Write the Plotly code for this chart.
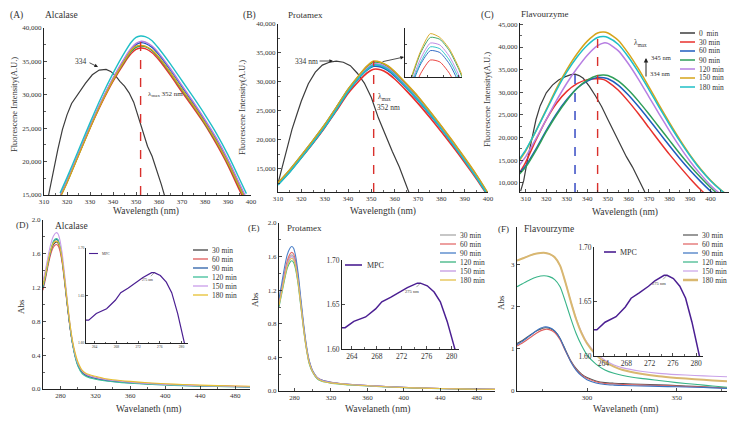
import plotly.graph_objects as go

W, H = 735, 421
SERIF = "Liberation Serif"
TXT = "#333333"

# ---------------- data ----------------
FL_LABELS = ["0  min", "30 min", "60 min", "90 min", "120 min", "150 min", "180 min"]
FL_COLORS = ["#3c3c3c", "#e8302c", "#1f5cbf", "#2e9e58", "#b77fe2", "#d6a41a", "#1fbfc6"]

# (A) Alcalase fluorescence
A_WL_0 = [312, 314, 316, 318, 320, 322, 325, 328, 331, 334, 337, 339, 341, 343, 345, 347, 349, 351, 353, 355, 357, 359, 361, 363]
A_0 = [15000, 18500, 21800, 24800, 27000, 28700, 30200, 31700, 33000, 33700, 33800, 33500, 32900, 32000, 31300, 30300, 28900, 26800, 24500, 22300, 20800, 18800, 16600, 14200]
A_WL = [317, 320, 325, 330, 335, 340, 345, 348, 350, 352, 354, 357, 360, 365, 370, 375, 380, 385, 390, 395, 398]
A_30 = [14800, 17000, 21000, 25000, 28700, 32000, 34800, 36200, 36800, 37000, 36900, 36300, 35200, 32900, 30400, 28000, 25500, 22600, 19400, 15700, 13500]
A_60 = [14700, 17000, 21100, 25200, 29000, 32400, 35300, 36800, 37500, 37800, 37700, 37100, 36000, 33700, 31200, 28700, 26100, 23300, 20100, 16500, 14300]
A_90 = [14700, 16900, 21000, 25100, 28900, 32200, 35000, 36500, 37100, 37300, 37200, 36600, 35500, 33200, 30700, 28300, 25700, 22900, 19700, 16100, 13900]
A_120 = [14800, 17100, 21200, 25300, 29100, 32500, 35500, 37000, 37700, 38000, 37900, 37300, 36200, 33900, 31400, 28900, 26300, 23500, 20300, 16700, 14500]
A_150 = [14600, 16800, 20900, 25000, 28800, 32200, 35100, 36700, 37300, 37400, 37300, 36700, 35600, 33300, 30800, 28400, 25800, 23000, 19800, 16200, 14000]
A_180 = [15300, 17600, 21700, 25800, 29700, 33200, 36300, 37900, 38600, 38800, 38700, 38100, 36900, 34600, 32100, 29600, 27000, 24200, 21000, 17400, 15200]
A_LMAX = 352

# (B) Protamex fluorescence
B_WL_0 = [310, 312, 314, 316, 318, 320, 323, 326, 329, 332, 335, 338, 341, 344, 347, 350, 353, 356, 359, 362, 365, 367]
B_0 = [12500, 15500, 18800, 21800, 24300, 26700, 29700, 31700, 32900, 33400, 33600, 33400, 32800, 31500, 29800, 27300, 23800, 20800, 18000, 15300, 12200, 10000]
B_WL = [310, 315, 320, 325, 330, 335, 340, 345, 348, 351, 354, 357, 360, 365, 370, 375, 380, 385, 390, 395, 400]
B_30 = [12400, 14500, 16900, 19400, 22100, 25000, 28000, 30300, 31500, 32200, 32100, 31500, 30500, 28500, 26300, 23900, 21400, 18800, 16100, 13300, 10300]
B_60 = [12300, 14500, 17000, 19500, 22200, 25200, 28300, 30800, 32000, 32700, 32600, 32000, 31000, 29000, 26800, 24400, 21900, 19200, 16500, 13600, 10500]
B_90 = [12500, 14800, 17300, 19900, 22600, 25600, 28700, 31200, 32600, 33400, 33300, 32700, 31700, 29600, 27400, 24900, 22300, 19600, 16800, 13900, 10700]
B_120 = [12400, 14700, 17200, 19800, 22500, 25500, 28600, 31000, 32300, 33100, 33000, 32400, 31400, 29300, 27100, 24700, 22100, 19400, 16600, 13700, 10600]
B_150 = [12600, 14800, 17300, 19900, 22600, 25600, 28700, 31300, 32700, 33600, 33400, 32800, 31800, 29700, 27500, 25000, 22400, 19700, 16900, 14000, 10800]
B_180 = [12200, 14400, 16900, 19500, 22200, 25200, 28300, 30900, 32100, 32900, 32800, 32200, 31200, 29100, 26900, 24500, 21900, 19200, 16400, 13500, 10400]
B_LMAX = 351

# (C) Flavourzyme fluorescence
C_WL_0 = [307.5, 309, 311, 313, 315, 317, 320, 323, 326, 329, 332, 334, 336, 338, 341, 344, 347, 350, 353, 356, 359, 362, 365, 368]
C_0 = [8200, 10500, 15500, 20000, 24000, 27000, 29900, 31600, 32700, 33400, 33900, 34000, 33700, 33100, 31300, 29200, 26800, 24000, 21200, 18400, 15800, 13500, 10800, 8000]
C_WL = [307, 310, 315, 320, 325, 330, 335, 340, 345, 348, 350, 355, 360, 365, 370, 375, 380, 385, 390, 395, 400, 405, 410]
C_30 = [12200, 14600, 19500, 24000, 27600, 30200, 31900, 32800, 33000, 32800, 32300, 30500, 28000, 25200, 22200, 19200, 16300, 13600, 11000, 8600, 6500, 5000, 4000]
C_60 = [12300, 13800, 17500, 21600, 25300, 28400, 30900, 32500, 33300, 33200, 33000, 31600, 29400, 26800, 24000, 21100, 18200, 15400, 12800, 10400, 8200, 6400, 5000]
C_90 = [12000, 13500, 17200, 21300, 25000, 28200, 30900, 32700, 33700, 33800, 33700, 32500, 30500, 28000, 25200, 22300, 19400, 16500, 13800, 11300, 9000, 7000, 5400]
C_120 = [14000, 15800, 19800, 24000, 28200, 32000, 35300, 38200, 40300, 40900, 40800, 39200, 36300, 32800, 29000, 25200, 21500, 18000, 14800, 12000, 9500, 7500, 6000]
C_150 = [15000, 17100, 21500, 26200, 30900, 35000, 38500, 41300, 43100, 43300, 43100, 41500, 38600, 35100, 31200, 27200, 23300, 19600, 16200, 13200, 10600, 8500, 6700]
C_180 = [15300, 17300, 21500, 26000, 30500, 34500, 37800, 40400, 42100, 42300, 42100, 40600, 37800, 34400, 30600, 26700, 22900, 19300, 16000, 13000, 10500, 8400, 6700]
C_LMAX_0 = 334
C_LMAX = 345

UV_LABELS = ["30 min", "60 min", "90 min", "120 min", "150 min", "180 min"]

# (D) Alcalase UV
D_COLORS = ["#454545", "#e05a5a", "#2b5fa8", "#3fbf9a", "#c99de9", "#e6c030"]
D_WL = [260, 263, 266, 269, 272, 275, 277, 279, 282, 285, 288, 291, 294, 297, 300, 305, 310, 320, 330, 340, 360, 380, 400, 420, 440, 460, 480, 497]
D_30 = [1.22, 1.35, 1.50, 1.63, 1.71, 1.74, 1.73, 1.68, 1.51, 1.26, 0.98, 0.73, 0.53, 0.39, 0.29, 0.20, 0.165, 0.13, 0.11, 0.095, 0.077, 0.063, 0.053, 0.045, 0.039, 0.034, 0.03, 0.027]
D_60 = [1.17, 1.31, 1.47, 1.60, 1.68, 1.71, 1.70, 1.65, 1.49, 1.24, 0.97, 0.72, 0.53, 0.39, 0.29, 0.20, 0.165, 0.135, 0.115, 0.10, 0.08, 0.066, 0.056, 0.047, 0.041, 0.036, 0.032, 0.029]
D_90 = [1.20, 1.34, 1.50, 1.64, 1.74, 1.77, 1.76, 1.70, 1.53, 1.27, 0.99, 0.73, 0.53, 0.38, 0.28, 0.19, 0.155, 0.125, 0.105, 0.09, 0.073, 0.06, 0.05, 0.043, 0.037, 0.032, 0.028, 0.025]
D_120 = [1.21, 1.35, 1.51, 1.65, 1.75, 1.78, 1.77, 1.71, 1.54, 1.28, 0.99, 0.73, 0.52, 0.37, 0.27, 0.18, 0.145, 0.115, 0.097, 0.085, 0.068, 0.056, 0.047, 0.04, 0.034, 0.03, 0.026, 0.023]
D_150 = [1.28, 1.42, 1.58, 1.72, 1.81, 1.85, 1.84, 1.78, 1.60, 1.33, 1.03, 0.76, 0.55, 0.40, 0.30, 0.21, 0.17, 0.135, 0.115, 0.10, 0.08, 0.065, 0.055, 0.047, 0.04, 0.035, 0.03, 0.028]
D_180 = [1.23, 1.36, 1.52, 1.65, 1.73, 1.75, 1.74, 1.69, 1.53, 1.28, 1.01, 0.76, 0.56, 0.42, 0.32, 0.22, 0.18, 0.15, 0.125, 0.11, 0.09, 0.074, 0.062, 0.053, 0.046, 0.04, 0.036, 0.033]

# (E) Protamex UV
E_COLORS = ["#a9a9a9", "#e36d6d", "#4a7fc8", "#3bb380", "#c39ae2", "#e3c04a"]
E_WL = [263, 266, 269, 272, 275, 277, 279, 281, 284, 287, 290, 293, 296, 300, 305, 310, 320, 330, 340, 360, 380, 400, 420, 440, 460, 480, 500]
E_30 = [1.04, 1.21, 1.38, 1.52, 1.60, 1.62, 1.60, 1.53, 1.32, 1.04, 0.76, 0.52, 0.35, 0.23, 0.155, 0.125, 0.10, 0.088, 0.078, 0.064, 0.052, 0.042, 0.035, 0.03, 0.026, 0.022, 0.02]
E_60 = [1.05, 1.22, 1.40, 1.55, 1.63, 1.65, 1.63, 1.56, 1.35, 1.06, 0.77, 0.53, 0.36, 0.235, 0.16, 0.13, 0.105, 0.09, 0.08, 0.065, 0.053, 0.043, 0.036, 0.03, 0.026, 0.022, 0.02]
E_90 = [1.10, 1.28, 1.47, 1.62, 1.70, 1.72, 1.70, 1.62, 1.40, 1.10, 0.80, 0.55, 0.37, 0.24, 0.16, 0.13, 0.105, 0.09, 0.08, 0.065, 0.053, 0.043, 0.036, 0.03, 0.026, 0.022, 0.02]
E_120 = [1.00, 1.16, 1.32, 1.46, 1.53, 1.55, 1.53, 1.46, 1.27, 1.00, 0.73, 0.50, 0.33, 0.22, 0.145, 0.115, 0.093, 0.082, 0.072, 0.06, 0.048, 0.04, 0.033, 0.028, 0.024, 0.02, 0.018]
E_150 = [1.03, 1.19, 1.36, 1.50, 1.58, 1.60, 1.58, 1.51, 1.31, 1.03, 0.75, 0.52, 0.35, 0.23, 0.155, 0.125, 0.10, 0.088, 0.078, 0.064, 0.052, 0.042, 0.035, 0.03, 0.026, 0.022, 0.02]
E_180 = [1.02, 1.18, 1.34, 1.48, 1.56, 1.58, 1.56, 1.49, 1.29, 1.02, 0.74, 0.51, 0.34, 0.225, 0.15, 0.12, 0.097, 0.085, 0.075, 0.062, 0.05, 0.041, 0.034, 0.029, 0.025, 0.021, 0.019]

# (F) Flavourzyme UV
F_COLORS = ["#555555", "#e06060", "#3a72c0", "#38b488", "#c9a2e8", "#d9b870"]
F_WIDTHS = [1.1, 1.1, 1.1, 1.1, 1.1, 2.0]
F_WL = [261, 264, 268, 272, 276, 279, 282, 285, 288, 291, 294, 297, 300, 305, 310, 315, 320, 330, 340, 350, 360, 370, 378]
F_30 = [1.13, 1.20, 1.32, 1.43, 1.50, 1.49, 1.42, 1.25, 0.98, 0.72, 0.53, 0.40, 0.32, 0.24, 0.20, 0.185, 0.175, 0.16, 0.15, 0.13, 0.11, 0.09, 0.07]
F_60 = [1.07, 1.14, 1.26, 1.38, 1.46, 1.46, 1.39, 1.22, 0.95, 0.70, 0.51, 0.38, 0.30, 0.22, 0.18, 0.165, 0.155, 0.14, 0.13, 0.115, 0.10, 0.085, 0.07]
F_90 = [1.10, 1.18, 1.31, 1.44, 1.52, 1.51, 1.43, 1.25, 0.96, 0.69, 0.49, 0.36, 0.27, 0.19, 0.155, 0.14, 0.13, 0.12, 0.11, 0.10, 0.09, 0.075, 0.06]
F_120 = [2.48, 2.55, 2.64, 2.71, 2.74, 2.72, 2.65, 2.48, 2.12, 1.72, 1.36, 1.08, 0.86, 0.64, 0.50, 0.42, 0.37, 0.30, 0.25, 0.20, 0.16, 0.12, 0.09]
F_150 = [3.10, 3.15, 3.22, 3.27, 3.29, 3.26, 3.18, 2.98, 2.58, 2.13, 1.72, 1.40, 1.16, 0.90, 0.73, 0.62, 0.55, 0.47, 0.42, 0.39, 0.37, 0.35, 0.34]
F_180 = [3.10, 3.15, 3.22, 3.27, 3.29, 3.26, 3.18, 2.98, 2.58, 2.12, 1.70, 1.37, 1.13, 0.86, 0.69, 0.58, 0.50, 0.41, 0.35, 0.31, 0.28, 0.25, 0.23]

# MPC inset curve (shared by D, E, F)
MPC_WL = [262.1, 262.9, 264.3, 266.2, 267.8, 268.8, 270.2, 271.8, 272.9, 274.5, 275.0, 276.1, 277.2, 278.2, 279.3, 280.5, 281.0]
MPC_ABS = [1.624, 1.624, 1.631, 1.636, 1.645, 1.653, 1.658, 1.664, 1.669, 1.674, 1.674, 1.671, 1.664, 1.653, 1.631, 1.601, 1.590]
MPC_COLOR = "#4b1f92"
MPC_PEAK = 275

# ---------------- helpers ----------------
def px(x):
    return x / W


def py(y):
    return 1 - y / H


layout = {}
shapes = []
annotations = []
fig = go.Figure()


def axes(n, x0, x1, y0, y1, xr, yr, xt0, xdt, yt0, ydt, yfmt=None, xminor=None, yminor=None,
         fs=7, ticklen=3, showlabels=True):
    xa = "xaxis" if n == 1 else f"xaxis{n}"
    ya = "yaxis" if n == 1 else f"yaxis{n}"
    common = dict(showline=True, linecolor="#222", linewidth=1, ticks="inside", ticklen=ticklen,
                  tickwidth=0.8, tickcolor="#222", showgrid=False, zeroline=False,
                  tickfont=dict(family=SERIF, size=fs, color=TXT), showticklabels=showlabels,
                  tickmode="linear", automargin=False, fixedrange=True)
    xd = dict(domain=[px(x0), px(x1)], range=xr, anchor="y" if n == 1 else f"y{n}",
              tick0=xt0, dtick=xdt, **common)
    yd = dict(domain=[py(y1), py(y0)], range=yr, anchor="x" if n == 1 else f"x{n}",
              tick0=yt0, dtick=ydt, **common)
    if yfmt:
        yd["tickformat"] = yfmt
    if xminor:
        xd["minor"] = dict(dtick=xminor, ticks="inside", ticklen=max(1.5, ticklen * 0.6), tickcolor="#222", tickwidth=0.7)
    if yminor:
        yd["minor"] = dict(dtick=yminor, ticks="inside", ticklen=max(1.5, ticklen * 0.6), tickcolor="#222", tickwidth=0.7)
    layout[xa] = xd
    layout[ya] = yd


def line(n, x, y, color, width=1.3, dash=None, shape="spline"):
    fig.add_trace(go.Scatter(x=x, y=y, mode="lines", xaxis="x" if n == 1 else f"x{n}",
                             yaxis="y" if n == 1 else f"y{n}", hoverinfo="skip",
                             line=dict(color=color, width=width, dash=dash, shape=shape,
                                       smoothing=0.6 if shape == "spline" else None)))


def txt(x, y, s, size=9, anchor="center", angle=0, color=TXT):
    annotations.append(dict(xref="paper", yref="paper", x=px(x), y=py(y), text=s, showarrow=False,
                            xanchor=anchor, yanchor="middle", textangle=angle,
                            font=dict(family=SERIF, size=size, color=color)))


def arrow(x0, y0, x1, y1, width=0.8, color="#222"):
    annotations.append(dict(xref="paper", yref="paper", x=px(x1), y=py(y1), ax=x0 - x1, ay=y0 - y1,
                            axref="pixel", ayref="pixel", text="", showarrow=True, arrowhead=2,
                            arrowsize=0.9, arrowwidth=width, arrowcolor=color))


def legend(x0, x1, xt, y_start, step, labels, colors, fs=7.5, widths=None):
    for i, (lab, col) in enumerate(zip(labels, colors)):
        y = y_start + i * step
        w = widths[i] if widths else 1.3
        shapes.append(dict(type="line", xref="paper", yref="paper", x0=px(x0), x1=px(x1),
                           y0=py(y), y1=py(y), line=dict(color=col, width=w)))
        txt(xt, y, lab, size=fs, anchor="left")


# ---------------- panel A ----------------
axes(1, 44, 251, 28, 195, [310, 400], [15000, 40000], 310, 10, 15000, 5000, yfmt=",d", xminor=5, yminor=2500)
line(1, A_WL_0, A_0, FL_COLORS[0], 1.2, shape="linear")
for ys, c in zip([A_30, A_60, A_90, A_120, A_150, A_180], FL_COLORS[1:]):
    line(1, A_WL, ys, c, 1.4)
line(1, [A_LMAX, A_LMAX], [15000, max(A_180)], "#d9302c", 1.4, dash="dash", shape="linear")

# ---------------- panel B ----------------
axes(2, 278, 488, 24, 192, [310, 400], [11000, 40000], 310, 10, 15000, 5000, yfmt=",d", xminor=5, yminor=2500)
line(2, B_WL_0, B_0, FL_COLORS[0], 1.2, shape="linear")
B_SERIES = [B_30, B_60, B_90, B_120, B_150, B_180]
for ys, c in zip(B_SERIES, FL_COLORS[1:]):
    line(2, B_WL, ys, c, 1.6)
line(2, [B_LMAX, B_LMAX], [11000, max(B_150)], "#d9302c", 1.4, dash="dash", shape="linear")

# B inset (zoom of the peaks)
axes(7, 405, 462, 28, 77, [343, 361], [31300, 33900], 340, 5, 30000, 1000, ticklen=2, showlabels=False)
for ys, c in zip(B_SERIES, FL_COLORS[1:]):
    line(7, B_WL, ys, c, 0.9)

# ---------------- panel C ----------------
axes(3, 520, 729, 23, 192, [307.2, 409], [8000, 45300], 310, 10, 10000, 5000, yfmt=",d", xminor=5, yminor=2500)
line(3, C_WL_0, C_0, FL_COLORS[0], 1.2, shape="linear")
for ys, c in zip([C_30, C_60, C_90, C_120, C_150, C_180], FL_COLORS[1:]):
    line(3, C_WL, ys, c, 1.5)
line(3, [C_LMAX_0, C_LMAX_0], [8000, max(C_0)], "#2a3fbf", 1.4, dash="dash", shape="linear")
line(3, [C_LMAX, C_LMAX], [8000, max(C_150)], "#d9302c", 1.4, dash="dash", shape="linear")

# ---------------- panel D ----------------
axes(4, 43, 250, 220, 389, [260, 497], [0, 2.0], 280, 40, 0, 0.4, yfmt=".1f", xminor=20, yminor=0.2)
for ys, c in zip([D_30, D_60, D_90, D_120, D_150, D_180], D_COLORS):
    line(4, D_WL, ys, c, 1.1)
axes(8, 86, 188, 248, 343, [262.4, 281.2], [1.60, 1.70], 264, 4, 1.60, 0.05, yfmt=".2f",
     xminor=2, fs=3.6, ticklen=2)
line(8, MPC_WL, MPC_ABS, MPC_COLOR, 1.2, shape="linear")

# ---------------- panel E ----------------
axes(5, 279, 495, 223, 391, [263, 500], [0, 2.0], 280, 40, 0, 0.4, yfmt=".1f", xminor=20, yminor=0.2)
for ys, c in zip([E_30, E_60, E_90, E_120, E_150, E_180], E_COLORS):
    line(5, E_WL, ys, c, 1.1)
axes(9, 342, 459, 260, 349, [262.4, 281.2], [1.60, 1.70], 264, 4, 1.60, 0.05, yfmt=".2f",
     xminor=2, fs=7.5, ticklen=3)
line(9, MPC_WL, MPC_ABS, MPC_COLOR, 1.5, shape="linear")

# ---------------- panel F ----------------
axes(6, 517, 727, 227, 391, [261, 378], [0, 3.9], 300, 50, 0, 1, yfmt="d", xminor=25)
for ys, c, w in zip([F_30, F_60, F_90, F_120, F_150, F_180], F_COLORS, F_WIDTHS):
    line(6, F_WL, ys, c, w)
axes(10, 594, 703, 247, 356, [262.4, 281.2], [1.60, 1.70], 264, 4, 1.60, 0.05, yfmt=".2f",
     xminor=2, fs=7.5, ticklen=3)
line(10, MPC_WL, MPC_ABS, MPC_COLOR, 1.5, shape="linear")

# ---------------- text ----------------
# panel labels and titles
txt(8, 15, "(A)", 9.5, "left"); txt(43, 15, "Alcalase", 9.5, "left")
txt(241, 15, "(B)", 9.5, "left"); txt(286, 15, "Protamex", 9, "left")
txt(479, 15, "(C)", 9.5, "left"); txt(519, 14, "Flavourzyme", 9, "left")
txt(14, 225, "(D)", 9, "left"); txt(53, 226, "Alcalase", 9.5, "left")
txt(246, 228, "(E)", 9, "left"); txt(285, 228, "Protamex", 9, "left")
txt(496, 229, "(F)", 9, "left"); txt(522, 229, "Flavourzyme", 9.5, "left")

# axis titles
FL_YT = "Fluorescene Intensity(A.U.)"
txt(14, 105, FL_YT, 8.5, angle=-90)
txt(242, 108, FL_YT, 8.5, angle=-90)
txt(487, 100, FL_YT, 8.5, angle=-90)
txt(146, 211, "Wavelength (nm)", 9.5)
txt(383, 211, "Wavelength (nm)", 9.5)
txt(625, 212, "Wavelength (nm)", 9.5)
txt(148, 409, "Wavelaneth (nm)", 9.5)
txt(378, 409, "Wavelaneth (nm)", 9.5)
txt(625, 409, "Wavelaneth (nm)", 9.5)
txt(21, 307, "Abs", 9, angle=-90)
txt(255, 300, "Abs", 9, angle=-90)
txt(501, 302, "Abs", 9, angle=-90)

# annotations A
txt(81, 61, "334", 7.5)
arrow(88, 62, 98, 67)
txt(146, 94, "λ<sub>max</sub> 352 nm", 7, "left")
# annotations B
txt(306, 61, "334 nm", 7.5)
arrow(318, 61, 333, 61)
txt(376, 97, "λ<sub>max</sub>", 7.5, "left")
txt(375, 108, "352 nm", 7.5, "left")
arrow(381, 62, 404, 57)
# annotations C
txt(632, 43, "λ<sub>max</sub>", 7.5, "left")
arrow(646, 78, 646, 58, width=1)
txt(649, 57, "345 nm", 6.5, "left")
txt(648, 73, "334 nm", 6.5, "left")

# inset peak labels
for xr, yr, fs, dx, dy in [("x8", "y8", 3.6, -7, 7), ("x9", "y9", 4.5, -8, 8), ("x10", "y10", 4.5, -8, 8)]:
    annotations.append(dict(xref=xr, yref=yr, x=MPC_PEAK, y=max(MPC_ABS), text="275 nm", showarrow=True,
                            ax=dx, ay=dy, arrowhead=0, arrowwidth=0.5, arrowcolor="#444",
                            font=dict(family=SERIF, size=fs, color=TXT)))

# legends
legend(680, 695, 697, 33, 9, FL_LABELS, FL_COLORS, fs=7.5, widths=[1.5] * 7)
legend(193, 208, 210, 250, 9, UV_LABELS, D_COLORS, fs=7.5)
legend(440, 456, 458, 235, 9, UV_LABELS, E_COLORS, fs=7.5)
legend(683, 698, 700, 235, 9, UV_LABELS, F_COLORS, fs=7.5, widths=[1.2, 1.2, 1.2, 1.2, 1.2, 2.5])
legend(89, 98, 100, 253.5, 0, ["MPC"], [MPC_COLOR], fs=3.6, widths=[1.1])
legend(345, 362, 365, 265, 0, ["MPC"], [MPC_COLOR], fs=8, widths=[1.6])
legend(604, 616, 618, 252, 0, ["MPC"], [MPC_COLOR], fs=8, widths=[1.6])

fig.update_layout(width=W, height=H, margin=dict(l=0, r=0, t=0, b=0, pad=0), showlegend=False,
                  paper_bgcolor="white", plot_bgcolor="white", shapes=shapes, hovermode=False,
                  annotations=annotations, font=dict(family=SERIF, color=TXT), **layout)
fig.write_html("out.html", config={"displayModeBar": False, "staticPlot": True},
               post_script="document.body.style.margin='0';document.body.style.overflow='hidden';")
